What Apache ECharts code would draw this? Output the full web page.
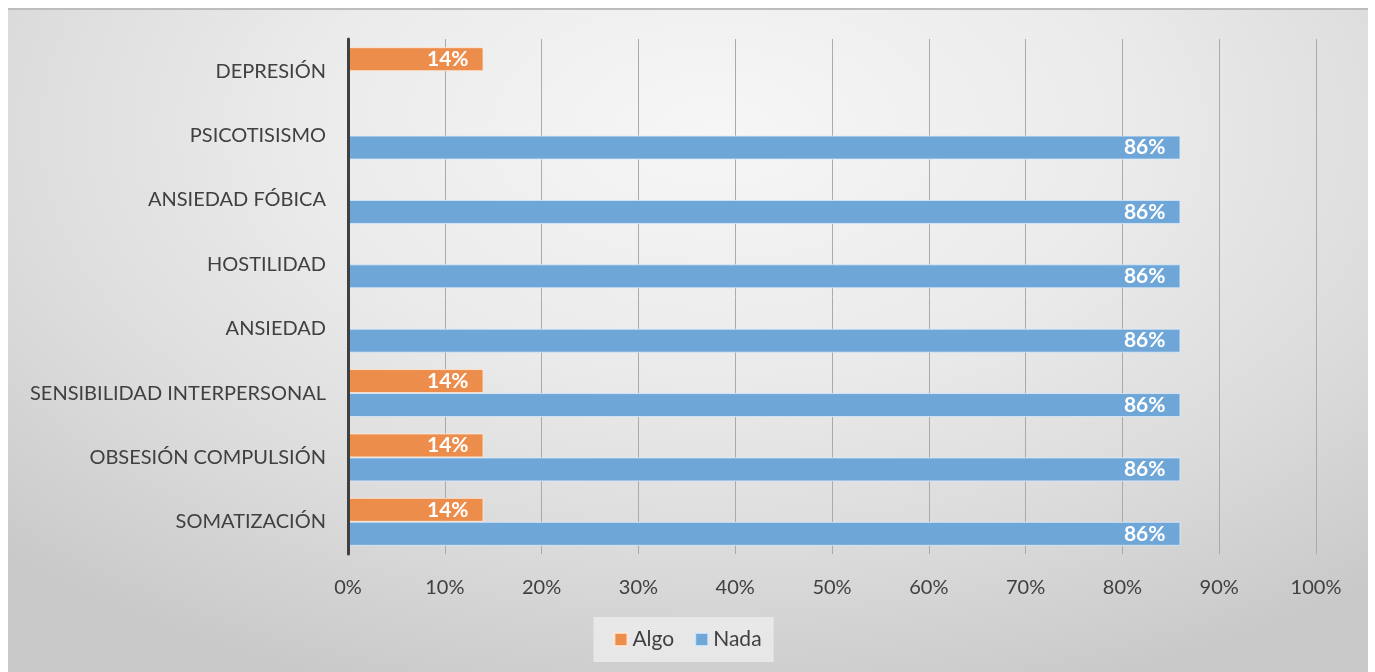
<!DOCTYPE html>
<html><head><meta charset="utf-8">
<script src="https://cdn.jsdelivr.net/npm/echarts@6/dist/echarts.min.js"></script>
<style>
html,body{margin:0;padding:0;background:#fff;width:1375px;height:672px;overflow:hidden;}
#bg{position:absolute;left:8px;top:8px;width:1360px;height:664px;border-top:2px solid #bdbdbd;box-sizing:border-box;
background:radial-gradient(ellipse 75% 90% at 52% 18%, #f6f6f6 0%, #ebebeb 40%, #dcdcdc 70%, #c9c9c9 100%);}
#chart{position:absolute;left:0;top:0;width:1375px;height:672px;}
</style></head>
<body><div id="bg"></div><div id="chart"></div>
<script>
const categories = ['SOMATIZACIÓN','OBSESIÓN COMPULSIÓN','SENSIBILIDAD INTERPERSONAL','ANSIEDAD','HOSTILIDAD','ANSIEDAD FÓBICA','PSICOTISISMO','DEPRESIÓN'];
const algo = [14, 14, 14, null, null, null, null, 14];
const nada = [86, 86, 86, 86, 86, 86, 86, null];
const xTicks = [0, 10, 20, 30, 40, 50, 60, 70, 80, 90, 100];

const font = 'Lato, "Open Sans", sans-serif';
const chart = echarts.init(document.getElementById('chart'), null, {renderer:'canvas'});
const label = {show:true, position:'insideRight', distance:15, color:'#fff', fontWeight:'bold', fontSize:21, fontFamily:font, formatter: p => p.value + '%'};
chart.setOption({
  backgroundColor:'transparent',
  animation:false,
  grid:{left:348, right:59, top:39, bottom:118, containLabel:false},
  legend:{
    data:['Algo','Nada'], bottom:10, left:'center',
    backgroundColor:'rgba(235,235,235,0.85)', padding:[12,12,12,20],
    itemWidth:13, itemHeight:13, itemGap:20,
    textStyle:{color:'#404040', fontSize:21, fontFamily:font},
    icon:'rect'
  },
  xAxis:{
    type:'value', min:0, max:100, interval:10,
    axisLabel:{formatter: v => xTicks.includes(v) ? v + '%' : '', color:'#404040', fontSize:20, fontFamily:font, margin:24},
    axisLine:{show:false}, axisTick:{show:false},
    splitLine:{show:true, lineStyle:{color:'#aaaaaa', width:1}}
  },
  yAxis:{
    type:'category', data:categories, z:10,
    axisLabel:{color:'#404040', fontSize:20, fontFamily:font, margin:22},
    axisLine:{show:true, lineStyle:{color:'#404040', width:3}},
    axisTick:{show:false}
  },
  series:[
    {name:'Algo', type:'bar', data:algo, barWidth:24, barGap:'0%', barCategoryGap:'25%',
     itemStyle:{color:'#ED8D4B', borderColor:'rgba(255,235,220,0.8)', borderWidth:1}, label:label},
    {name:'Nada', type:'bar', data:nada, barWidth:24, barGap:'0%',
     itemStyle:{color:'#6FA6D8', borderColor:'rgba(220,235,250,0.8)', borderWidth:1}, label:label}
  ]
});
</script></body></html>
